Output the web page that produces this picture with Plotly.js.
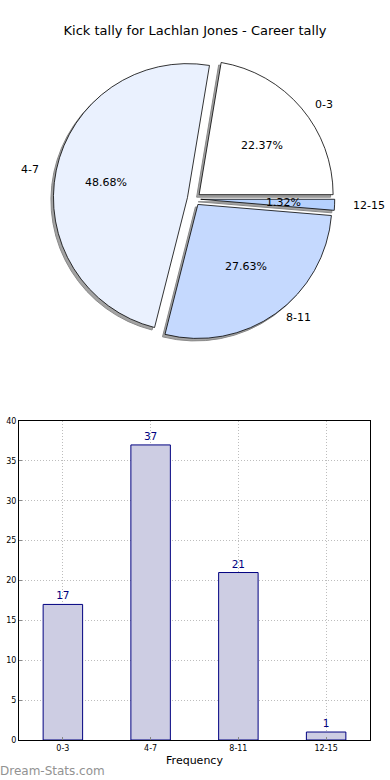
<!DOCTYPE html>
<html>
<head>
<meta charset="utf-8">
<script src="https://cdn.plot.ly/plotly-3.0.1.min.js"></script>
<style>html,body{margin:0;padding:0;background:#fff}#chart{width:390px;height:780px}</style>
</head>
<body>
<div id="chart"></div>
<script>
const categories = ['0-3', '4-7', '8-11', '12-15'];
const counts = [17, 37, 21, 1];
const sliceColors = ['#ffffff', '#eaf1fe', '#c5d9fe', '#b5d1fd'];
const yTicks = [0, 5, 10, 15, 20, 25, 30, 35, 40];
const titleText = 'Kick tally for Lachlan Jones - Career tally';

const W = 390, H = 780;
const FONT = 'DejaVu Sans, sans-serif';
const total = counts.reduce((a, b) => a + b, 0);
// pie geometry (pixels)
const cx = 194, cy = 199, R = 134, pull = 0.05;
const labRx = 138, labRy = 127; // label placement radii
const half = R * (1 + pull);
// first slice starts at 3 o'clock and runs counterclockwise
const rot = 90 - counts[0] / total * 360;
function dom(cxp, cyp) {
  return {x: [(cxp - half) / W, (cxp + half) / W], y: [(H - cyp - half) / H, (H - cyp + half) / H]};
}
const pulls = categories.map(() => pull);
const shadowTrace = {
  type: 'pie', values: counts, labels: categories, sort: false,
  direction: 'counterclockwise', rotation: rot, pull: pulls,
  textinfo: 'none', hoverinfo: 'skip', showlegend: false,
  marker: {colors: categories.map(() => '#a3a3a3'), line: {color: '#8a8a8a', width: 1}},
  domain: dom(cx - 2.5, cy + 2.5)
};
const pieTrace = {
  type: 'pie', values: counts, labels: categories, sort: false,
  direction: 'counterclockwise', rotation: rot, pull: pulls,
  textinfo: 'none', showlegend: false,
  marker: {colors: sliceColors, line: {color: '#000000', width: 0.8}},
  domain: dom(cx, cy)
};

// labels placed like matplotlib: label at 1.1 r, percent at 0.6 r (plus explode)
const annotations = [];
let acc = 0;
counts.forEach((v, i) => {
  const mid = (acc + v / 2) / total * 2 * Math.PI;
  acc += v;
  const c = Math.cos(mid), s = Math.sin(mid);
  const lx = cx + (1.1 + pull) * labRx * c, ly = cy - (1.1 + pull) * labRy * s;
  const px = cx + (0.6 + pull) * labRx * c, py = cy - (0.6 + pull) * labRy * s;
  annotations.push({
    xref: 'paper', yref: 'paper', x: lx / W, y: (H - ly) / H,
    text: categories[i], showarrow: false, borderpad: 0, borderwidth: 0,
    xanchor: c > 0 ? 'left' : 'right', yanchor: 'middle',
    font: {family: FONT, size: 11, color: '#000'}
  });
  annotations.push({
    xref: 'paper', yref: 'paper', x: px / W, y: (H - py) / H,
    text: (v / total * 100).toFixed(2) + '%', showarrow: false, borderpad: 0, borderwidth: 0,
    xanchor: 'center', yanchor: 'middle',
    font: {family: FONT, size: 11, color: '#000'}
  });
});
annotations.push({
  xref: 'paper', yref: 'paper', x: 0, y: (H - 771) / H, xanchor: 'left', yanchor: 'middle',
  text: 'Dream-Stats.com', showarrow: false, borderpad: 0, borderwidth: 0,
  font: {family: FONT, size: 12, color: '#929292'}
});

const barTrace = {
  type: 'bar', x: categories, y: counts, width: 0.45,
  xaxis: 'x', yaxis: 'y',
  marker: {color: '#cdcde3', line: {color: '#000080', width: 1}},
  text: counts.map(String), textposition: 'outside', cliponaxis: false,
  textfont: {family: FONT, size: 10.5, color: '#000080'},
  showlegend: false
};

const layout = {
  width: W, height: H,
  margin: {l: 0, r: 0, t: 0, b: 0},
  paper_bgcolor: '#fff', plot_bgcolor: '#fff',
  title: {text: titleText, x: 0.5, xanchor: 'center', y: 1 - 30 / H, yanchor: 'middle',
          font: {family: FONT, size: 13, color: '#000'}},
  xaxis: {
    domain: [19 / W, 370 / W], anchor: 'y', type: 'category', range: [-0.5, 3.5],
    showline: true, linecolor: '#000', linewidth: 1, mirror: true,
    showgrid: true, gridcolor: '#bdbdbd', griddash: '1px,2px', gridwidth: 1,
    ticks: 'inside', ticklen: 3, tickcolor: '#888',
    tickfont: {family: FONT, size: 8, color: '#000'},
    title: {text: 'Frequency', font: {family: FONT, size: 11, color: '#000'}, standoff: 4},
    zeroline: false, fixedrange: true
  },
  yaxis: {
    domain: [40 / H, 359 / H], anchor: 'x', range: [0, 40], tickvals: yTicks,
    showline: true, linecolor: '#000', linewidth: 1, mirror: true,
    showgrid: true, gridcolor: '#bdbdbd', griddash: '1px,2px', gridwidth: 1,
    ticks: 'inside', ticklen: 3, tickcolor: '#888',
    tickfont: {family: FONT, size: 8, color: '#000'},
    zeroline: false, fixedrange: true
  },
  bargap: 0.55,
  annotations: annotations
};

Plotly.newPlot('chart', [shadowTrace, pieTrace, barTrace], layout, {displayModeBar: false, staticPlot: true});
</script>
</body>
</html>
